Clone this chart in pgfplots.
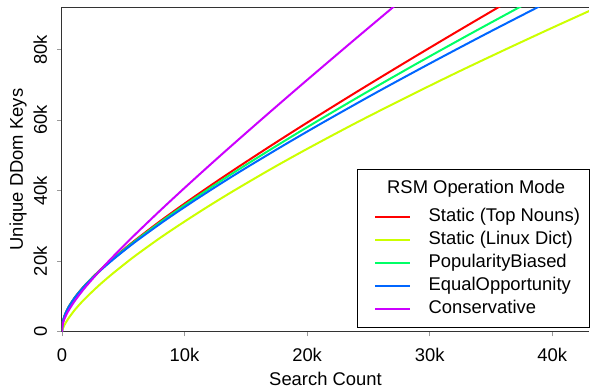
\documentclass[border=0pt]{standalone}
\usepackage{pgfplots}
\pgfplotsset{compat=1.18}
\usepackage{fontspec}
\setmainfont{Liberation Sans}
\definecolor{cRed}{HTML}{FF0000}
\definecolor{cYel}{HTML}{CCFF00}
\definecolor{cGrn}{HTML}{00FF66}
\definecolor{cBlu}{HTML}{0066FF}
\definecolor{cMag}{HTML}{CC00FF}
\newcommand{\lblfont}{\fontsize{13.8}{16.5}\selectfont}
\begin{document}
\begin{tikzpicture}
\begin{axis}[
  at={(0pt,0pt)}, anchor=south west,
  scale only axis, width=395.25pt, height=243.3pt,
  xmin=0, xmax=43000, ymin=0, ymax=92000,
  axis x line*=box, axis y line*=left,
  axis line style={-, black!80, line width=0.75pt},
  xtick={0,10000,20000,30000,40000},
  xticklabels={0,10k,20k,30k,40k},
  ytick={0,20000,40000,60000,80000},
  yticklabels={0,20k,40k,60k,80k},
  scaled ticks=false,
  xtick pos=bottom, ytick pos=left,
  tick align=outside, major tick length=3.4pt,
  tick style={black!40, line width=0.6pt},
  xticklabel style={font=\lblfont, anchor=base, inner sep=0pt},
  xticklabel shift=19pt,
  yticklabel style={font=\lblfont, rotate=90, anchor=base, inner sep=0pt},
  yticklabel shift=8pt,
  xlabel={Search Count}, ylabel={Unique DDom Keys},
  every axis x label/.style={at={([yshift=-40pt]axis description cs:0.5,0)}, anchor=base, font=\lblfont},
  every axis y label/.style={at={([xshift=-29.3pt]axis description cs:0,0.5)}, rotate=90, anchor=base, font=\lblfont},
  legend cell align=left,
  legend image code/.code={\path (0pt,0pt); \draw[#1] (6pt,0pt) -- (32.25pt,0pt);},
  legend style={at={([yshift=2.8pt,xshift=0.4pt]axis description cs:1,0)}, anchor=south east,
    draw=black, line width=0.75pt, fill=white, font=\lblfont,
    inner xsep=6.75pt, inner ysep=8.2pt, row sep=5.2pt, column sep=13pt,
    nodes={inner sep=0pt, text height=9.5pt, text depth=2.5pt}},
  every axis plot/.append style={line width=1.5pt, smooth, no marks},
]
\addlegendimage{empty legend}
\addlegendentry[text depth=6.6pt]{\makebox[0pt][l]{\hspace{-31.6pt}RSM Operation Mode}}

\addplot[cRed] coordinates {
(0,0)(50,2450)(200,4450)(500,6770)(1000,9500)(1500,11710)(2000,13670)(3000,17160)(4000,20300)(5000,23240)(6000,26040)(8000,31330)(10000,36340)(12000,41160)(14000,45840)(17000,52650)(20000,59290)(24000,67920)(28000,76360)(32000,84650)(36000,92820)};
\addlegendentry{Static (Top Nouns)}

\addplot[cYel] coordinates {
(0,0)(50,700)(200,1900)(500,3650)(1000,6000)(1500,8000)(2000,9800)(3000,13100)(4000,16100)(5000,18900)(6000,21600)(8000,26600)(10000,31250)(12000,35700)(14000,39950)(17000,46050)(20000,51850)(24000,59250)(28000,66300)(32000,73150)(36000,79750)(40000,86200)(44000,92500)};
\addlegendentry{Static (Linux Dict)}

\addplot[cGrn] coordinates {
(0,0)(50,2450)(200,4450)(502,6770)(1005,9500)(1509,11710)(2014,13670)(3027,17160)(4042,20300)(5061,23240)(6082,26040)(8131,31330)(10190,36340)(12260,41160)(14330,45840)(17470,52650)(20620,59290)(24850,67920)(29110,76360)(33410,84650)(37740,92820)};
\addlegendentry{PopularityBiased}

\addplot[cBlu] coordinates {
(0,0)(50,2450)(202,4450)(506,6770)(1015,9500)(1526,11710)(2039,13670)(3071,17160)(4108,20300)(5150,23240)(6197,26040)(8304,31330)(10430,36340)(12570,41160)(14720,45840)(17980,52650)(21270,59290)(25690,67920)(30170,76360)(34690,84650)(39260,92820)};
\addlegendentry{EqualOpportunity}

\addplot[cMag] coordinates {
(0,0)(50,1920)(200,3640)(500,5800)(1000,8530)(1500,10870)(2000,13020)(3000,16980)(4000,20700)(5000,24250)(6000,27690)(8000,34340)(10000,40780)(12000,47080)(14000,53270)(17000,62400)(20000,71400)(24000,83230)(28000,94910)};
\addlegendentry{Conservative}
\end{axis}
\pgfresetboundingbox
\path[use as bounding box] (-46.5pt,-42.2pt) rectangle (396pt,248.8pt);
\end{tikzpicture}
\end{document}
